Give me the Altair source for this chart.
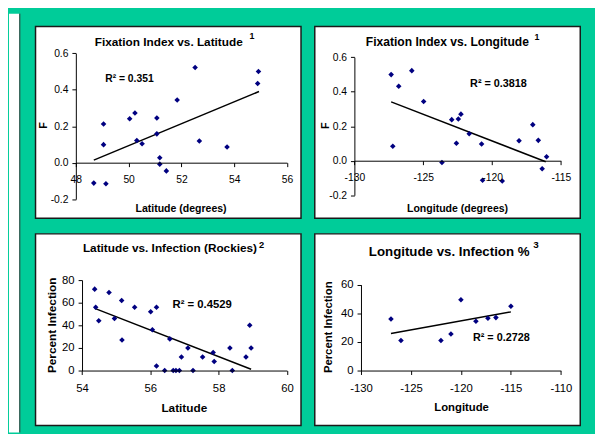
import altair as alt
import pandas as pd

# ---------------- data ----------------
lat1 = [48.68, 49.14, 49.05, 49.05, 50.04, 50.24, 50.31, 50.51, 51.07, 51.07,
        51.18, 51.18, 51.43, 51.84, 52.52, 52.68, 53.73, 54.89, 54.92]
f1 = [-0.112, -0.115, 0.212, 0.099, 0.241, 0.272, 0.122, 0.104, 0.245, 0.158,
      0.027, -0.008, -0.045, 0.344, 0.522, 0.119, 0.086, 0.434, 0.50]
trend1_x = [48.68, 54.94]
trend1_y = [0.014, 0.39]

lon2 = [-127.33, -127.21, -126.78, -125.83, -124.97, -123.64, -122.93, -122.59,
        -122.45, -122.26, -121.66, -120.76, -120.69, -119.26, -118.04, -117.04,
        -116.64, -116.36, -116.04]
f2 = [0.499, 0.084, 0.432, 0.522, 0.343, -0.01, 0.238, 0.101, 0.242, 0.270,
      0.156, 0.097, -0.113, -0.118, 0.116, 0.209, 0.118, -0.046, 0.023]
trend2_x = [-127.33, -116.1]
trend2_y = [0.341, -0.006]

lat3 = [54.37, 54.40, 54.49, 54.79, 54.95, 55.16, 55.17, 55.54, 56.01, 56.06,
        56.18, 56.18, 56.42, 56.57, 56.67, 56.75, 56.85, 56.91, 57.10, 57.25,
        57.53, 57.84, 57.87, 58.33, 58.40, 58.80, 58.91, 58.95]
inf3 = [72, 56, 44, 69, 46, 62, 27, 56, 52, 36, 56, 4, 0, 28, 0, 0, 0, 12, 20, 0,
        12, 16, 8, 20, 0, 12, 40, 20]
trend3_x = [54.37, 58.95]
trend3_y = [55, 1.1]

lon4 = [-127.0, -126.0, -122.0, -121.0, -120.0, -118.5, -117.3, -116.5, -115.0]
inf4 = [36, 21, 21, 25.5, 49.5, 34.5, 36.5, 37, 45]
trend4_x = [-127.0, -115.0]
trend4_y = [25.9, 41.0]

titles = ["Fixation Index vs. Latitude", "Fixation Index vs. Longitude",
          "Latitude vs. Infection (Rockies)", "Longitude vs. Infection %"]
sups = ["1", "1", "2", "3"]
r2 = ["R\u00b2 = 0.351", "R\u00b2 = 0.3818", "R\u00b2 = 0.4529", "R\u00b2 = 0.2728"]
xtitles = ["Latitude (degrees)", "Longitude (degrees)", "Latitude", "Longitude"]
ytitles = ["F", "F", "Percent Infection", "Percent Infection"]

FONT = "Liberation Sans"
PW, PH = 270, 195
GREEN = "#00CC99"
HYPHEN = "replace(datum.label, '\u2212', '-')"


def txt(s, x, y, size, angle=0, bold=True, align="center"):
    return alt.Chart(pd.DataFrame({"t": [s]})).mark_text(
        font=FONT, fontSize=size, fontWeight="bold" if bold else "normal",
        color="black", angle=angle, align=align, baseline="middle"
    ).encode(text="t:N", x=alt.value(x), y=alt.value(y))


def panel(xs, ys, tx, ty, xdom, xr, ydom, yr, xticks, yticks, xoff, yoff,
          lab_size, texts, extra=None):
    df = pd.DataFrame({"x": xs, "y": ys})
    tdf = pd.DataFrame({"x": tx, "y": ty})
    xenc = alt.X("x:Q", scale=alt.Scale(domain=xdom, range=xr, nice=False, zero=False),
                 axis=alt.Axis(values=xticks, offset=xoff, title=None, grid=False,
                               tickSize=4, labelPadding=8, labelFlush=False,
                               labelOverlap=False, labelFontSize=lab_size,
                               labelFont=FONT, labelColor="black", labelExpr=HYPHEN,
                               domainColor="black", tickColor="black", zindex=1))
    yenc = alt.Y("y:Q", scale=alt.Scale(domain=ydom, range=yr, nice=False, zero=False),
                 axis=alt.Axis(values=yticks, offset=yoff, title=None, grid=False,
                               tickSize=4, labelPadding=4, labelFlush=False,
                               labelOverlap=False, labelFontSize=lab_size,
                               labelFont=FONT, labelColor="black", labelExpr=HYPHEN,
                               domainColor="black", tickColor="black", zindex=1))
    line = alt.Chart(tdf).mark_line(color="black", strokeWidth=1.5).encode(x=xenc, y=yenc)
    pts = alt.Chart(df).mark_point(shape="diamond", filled=True, size=32,
                                   color="#000080", opacity=1).encode(x="x:Q", y="y:Q")
    layers = []
    if extra is not None:
        layers += extra
    layers += [line, pts] + texts
    return alt.layer(*layers).properties(width=PW, height=PH)


# left white strip + dark frame line (left of the green area)
strip = alt.Chart(pd.DataFrame({"a": [0]})).mark_rect(color="white").encode(
    x=alt.value(-27), x2=alt.value(-16.5), y=alt.value(-13), y2=alt.value(413))
frame = alt.Chart(pd.DataFrame({"a": [0]})).mark_rule(color="#333333", strokeWidth=1).encode(
    x=alt.value(-16), y=alt.value(-13), y2=alt.value(413))

p1 = panel(lat1, f1, trend1_x, trend1_y, [48, 56], [41, 255.7], [-0.2, 0.6], [175.7, 27.3],
           [48, 50, 52, 54, 56], [-0.2, 0, 0.2, 0.4, 0.6], -56.4, -41, 10.5,
           [txt(titles[0], 135.5, 16, 12), txt(sups[0], 220, 10, 9),
            txt(r2[0], 95.5, 54, 10.5), txt(xtitles[0], 148, 186, 10.7),
            txt(ytitles[0], 8.3, 100.7, 11, angle=270)],
           extra=[strip, frame])

p2 = panel(lon2, f2, trend2_x, trend2_y, [-130, -115], [40.3, 250.3], [-0.2, 0.6], [171.7, 31.3],
           [-130, -125, -120, -115], [-0.2, 0, 0.2, 0.4, 0.6], -58.4, -40.3, 10.5,
           [txt(titles[1], 134.8, 16.3, 12.3), txt(sups[1], 226, 10.7, 9),
            txt(r2[1], 186.8, 58.3, 11), txt(xtitles[1], 145.2, 185.7, 10.7),
            txt(ytitles[1], 11, 101, 11, angle=270)])

p3 = panel(lat3, inf3, trend3_x, trend3_y, [54, 60], [47.3, 255.7], [0, 80], [139, 47],
           [54, 56, 58, 60], [0, 20, 40, 60, 80], -56, -47.3, 11.5,
           [txt(titles[2], 136.7, 14.3, 12), txt(sups[2], 230, 11.7, 9.5),
            txt(r2[2], 169.5, 72.7, 11.5), txt(xtitles[2], 151.3, 176.7, 12),
            txt(ytitles[2], 16.7, 93, 12, angle=270)])

p4 = panel(lon4, inf4, trend4_x, trend4_y, [-130, -110], [47, 250.3], [0, 60], [139, 51.7],
           [-130, -125, -120, -115, -110], [0, 20, 40, 60], -56, -47, 11.5,
           [txt(titles[3], 136.7, 18.3, 13.5), txt(sups[3], 225, 11.7, 10),
            txt(r2[3], 189.7, 105.7, 11), txt(xtitles[3], 149.3, 176.7, 11.5),
            txt(ytitles[3], 14.3, 95, 11.5, angle=270)])

chart = alt.concat(
    p1, p2, p3, p4, columns=2, spacing={"row": 16, "column": 14}, bounds="flush"
).resolve_scale(
    x="independent", y="independent"
).properties(
    background=GREEN,
    padding={"left": 0, "top": 0, "right": 14, "bottom": 7},
).configure_view(
    fill="white", stroke="#1a1a1a", strokeWidth=1.5
)

chart.save("out.html", embed_options={"renderer": "svg", "actions": False})
